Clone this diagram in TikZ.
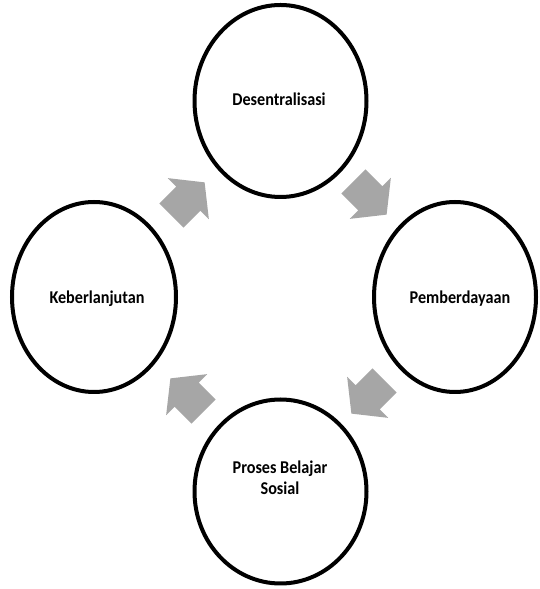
\documentclass[tikz,border=0pt]{standalone}
\usepackage{fontspec}
\setmainfont{Carlito}[FakeStretch=0.9]
\usetikzlibrary{shapes.geometric}
\definecolor{arrowgray}{RGB}{166,166,166}
\begin{document}
\begin{tikzpicture}[x=1pt,y=1pt,
  stage/.style={ellipse, draw=black, line width=4pt, inner sep=0pt},
  lbl/.style={font=\fontsize{18}{21}\selectfont\bfseries, align=center, anchor=base, inner sep=0pt},
  pics/cyclearrow/.style={code={\fill[arrowgray] (-23.5,-17) -- (0.5,-17) -- (0.5,-29) -- (23.5,0) -- (0.5,29) -- (0.5,17) -- (-23.5,17) -- cycle;}}
]
\useasboundingbox (0,0) rectangle (540,589);
\fill[white] (0,0) rectangle (540,589);
% stages
\node[stage, minimum width=172pt, minimum height=192pt] (top) at (280.5,488) {};
\node[stage, minimum width=164pt, minimum height=190pt] (left) at (94,292) {};
\node[stage, minimum width=162pt, minimum height=190pt] (right) at (455,292) {};
\node[stage, minimum width=172pt, minimum height=184pt] (bottom) at (280.5,97.5) {};
% labels
\node[lbl] (ltop) at (279,483) {Desentralisasi};
\node[lbl] (lleft) at (97,285.7) {Keberlanjutan};
\node[lbl] (lright) at (460,285.7) {Pemberdayaan};
\node[lbl] (lbottom) at (280,94) {Proses Belajar\\Sosial};
% cycle arrows
\pic[rotate=45] (a1) at (188,390) {cyclearrow};
\pic[rotate=-45] (a2) at (370,391) {cyclearrow};
\pic[rotate=-135] (a3) at (368,192) {cyclearrow};
\pic[rotate=135] (a4) at (187,194) {cyclearrow};
\end{tikzpicture}
\end{document}
